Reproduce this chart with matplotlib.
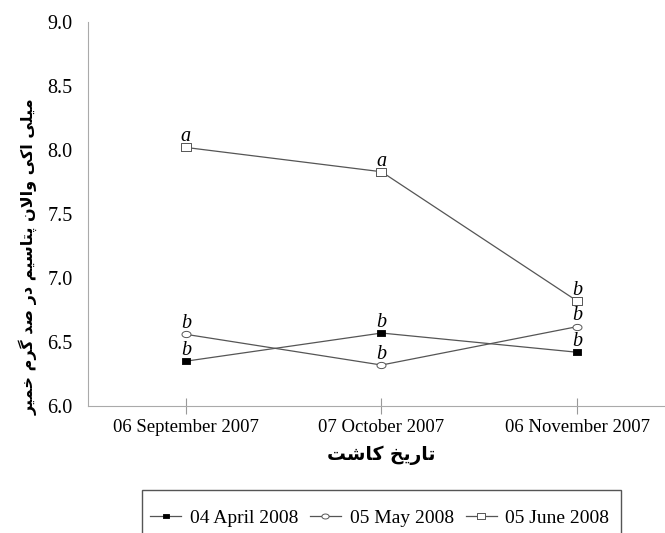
import matplotlib
matplotlib.use("Agg")
import numpy as np
import matplotlib.pyplot as plt
from matplotlib.patches import Rectangle

# data
dates = ["06 September 2007", "07 October 2007", "06 November 2007"]
series_names = ["04 April 2008", "05 May 2008", "05 June 2008"]
april = [6.35, 6.57, 6.42]
may = [6.56, 6.32, 6.62]
june = [8.02, 7.83, 6.82]
april_letters = ["b", "b", "b"]
may_letters = ["b", "b", "b"]
june_letters = ["a", "a", "b"]

ylabel_fa = "میلی اکی والان پتاسیم در صد گرم خمیر"
xlabel_fa = "تاریخ کاشت"

# --- minimal Persian shaping (matplotlib draws no Arabic joining) ---
FORMS = {
    "ا": ("\uFE8D", "\uFE8E", None, None),
    "د": ("\uFEA9", "\uFEAA", None, None),
    "ر": ("\uFEAD", "\uFEAE", None, None),
    "و": ("\uFEED", "\uFEEE", None, None),
    "پ": ("\uFB56", "\uFB57", "\uFB58", "\uFB59"),
    "ت": ("\uFE95", "\uFE96", "\uFE97", "\uFE98"),
    "خ": ("\uFEA5", "\uFEA6", "\uFEA7", "\uFEA8"),
    "س": ("\uFEB1", "\uFEB2", "\uFEB3", "\uFEB4"),
    "ش": ("\uFEB5", "\uFEB6", "\uFEB7", "\uFEB8"),
    "ص": ("\uFEB9", "\uFEBA", "\uFEBB", "\uFEBC"),
    "ک": ("\uFB8E", "\uFB8F", "\uFB90", "\uFB91"),
    "گ": ("\uFB92", "\uFB93", "\uFB94", "\uFB95"),
    "ل": ("\uFEDD", "\uFEDE", "\uFEDF", "\uFEE0"),
    "م": ("\uFEE1", "\uFEE2", "\uFEE3", "\uFEE4"),
    "ن": ("\uFEE5", "\uFEE6", "\uFEE7", "\uFEE8"),
    "ی": ("\uFBFC", "\uFBFD", "\uFBFE", "\uFBFF"),
}


def shape(text):
    out = []
    for word in text.split(" "):
        chars = list(word)
        glyphs = []
        i = 0
        while i < len(chars):
            c = chars[i]
            prev_joins = i > 0 and FORMS.get(chars[i - 1], (0, 0, None))[2] is not None
            # lam-alef ligature
            if c == "ل" and i + 1 < len(chars) and chars[i + 1] == "ا":
                glyphs.append("\uFEFC" if prev_joins else "\uFEFB")
                i += 2
                continue
            f = FORMS.get(c)
            if f is None:
                glyphs.append(c)
                i += 1
                continue
            next_exists = i + 1 < len(chars) and chars[i + 1] in FORMS
            can_join_next = f[2] is not None and next_exists
            if prev_joins and can_join_next:
                glyphs.append(f[3])
            elif prev_joins:
                glyphs.append(f[1])
            elif can_join_next:
                glyphs.append(f[2])
            else:
                glyphs.append(f[0])
            i += 1
        out.append("".join(glyphs))
    return " ".join(out)[::-1]


plt.rcParams["font.family"] = ["Liberation Serif", "DejaVu Sans"]

W, H = 665, 533
fig = plt.figure(figsize=(W / 100, H / 100), dpi=100)
ax = fig.add_axes([88 / W, 1 - 406 / H, 587 / W, 384 / H])

# slightly wide markers, as in the reference
rect_w = [(-1.4, -1), (1.4, -1), (1.4, 1), (-1.4, 1), (-1.4, -1)]
t = np.linspace(0, 2 * np.pi, 41)
ellipse = list(zip(1.45 * np.cos(t), np.sin(t)))
line_col = "#555555"
x = list(range(len(dates)))

styles = [
    (april, april_letters, dict(marker=rect_w, markersize=6, markerfacecolor="black",
                                markeredgecolor="black", markeredgewidth=0.6)),
    (may, may_letters, dict(marker=ellipse, markersize=6.5, markerfacecolor="white",
                            markeredgecolor=line_col, markeredgewidth=0.7)),
    (june, june_letters, dict(marker=rect_w, markersize=7.4, markerfacecolor="white",
                              markeredgecolor=line_col, markeredgewidth=0.7)),
]

handles = []
for (vals, letters, mk), name in zip(styles, series_names):
    h, = ax.plot(x, vals, color=line_col, linewidth=0.9, label=name, **mk)
    handles.append(h)
    for xi, yi, lt in zip(x, vals, letters):
        ax.annotate(lt, (xi, yi), xytext=(0, 4.5), textcoords="offset points",
                    ha="center", va="baseline", fontsize=14.5, style="italic")

ax.set_xlim(-0.5, 2.5)
ax.set_ylim(6.0, 9.0)
ax.set_yticks([6.0, 6.5, 7.0, 7.5, 8.0, 8.5, 9.0])
ax.set_yticklabels([f"{v:.1f}" for v in ax.get_yticks()])
ax.set_xticks(x)
ax.set_xticklabels(dates)
ax.tick_params(axis="y", length=0, pad=11, labelsize=14.5)
ax.tick_params(axis="x", direction="inout", length=12, color="#999999", labelsize=13.5, pad=3)

for s in ["top", "right"]:
    ax.spines[s].set_visible(False)
for s in ["left", "bottom"]:
    ax.spines[s].set_color("#aaaaaa")

ax.set_xlabel(shape(xlabel_fa), fontsize=13.5, fontweight="bold", family=["DejaVu Sans"])
ax.xaxis.set_label_coords(0.5, -40 / 384)
ax.set_ylabel(shape(ylabel_fa), fontsize=11.5, fontweight="bold", family=["DejaVu Sans"])
ax.yaxis.set_label_coords(-50 / 587, (406 - 257) / 384)

# legend frame runs past the bottom edge as in the reference
fig.patches.append(Rectangle((142 / W, -0.1), (621 - 142) / W, 0.1 + (H - 490) / H,
                             transform=fig.transFigure, fill=False,
                             edgecolor="#555555", linewidth=1.0))
leg = fig.legend(handles=handles, loc="center left", bbox_to_anchor=(150 / W, 1 - 518 / H),
                 ncol=3, frameon=False, fontsize=14, handlelength=1.6, markerscale=0.8,
                 columnspacing=0.6, handletextpad=0.45, borderpad=0, borderaxespad=0)

fig.savefig("out.png", dpi=100)
